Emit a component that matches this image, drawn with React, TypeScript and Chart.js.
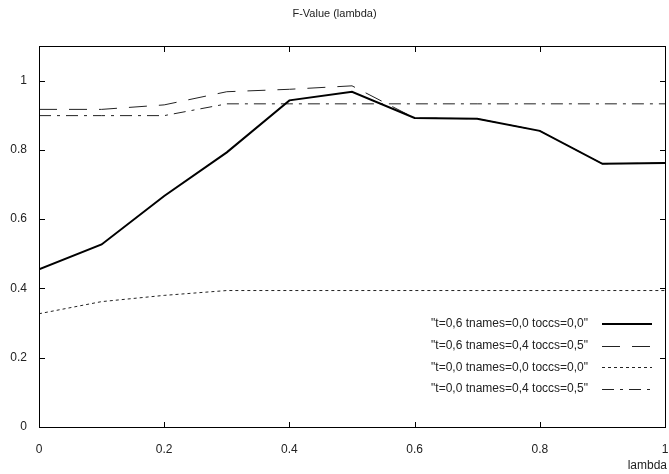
import React, { useEffect, useRef } from "react";
import { Chart, registerables } from "chart.js";

Chart.register(...registerables);

const lambdas = [0, 0.1, 0.2, 0.3, 0.4, 0.5, 0.6, 0.7, 0.8, 0.9, 1.0];
const seriesA = [0.455, 0.527, 0.667, 0.793, 0.943, 0.968, 0.892, 0.89, 0.855, 0.76, 0.762];
const seriesB = [0.917, 0.917, 0.93, 0.968, 0.975, 0.985, 0.892, 0.89, 0.855, 0.76, 0.762];
const seriesC = [0.327, 0.362, 0.38, 0.394, 0.394, 0.394, 0.394, 0.394, 0.394, 0.394, 0.394];
const seriesD = [0.899, 0.899, 0.899, 0.933, 0.933, 0.933, 0.933, 0.933, 0.933, 0.933, 0.933];
const labels = [
  '"t=0,6 tnames=0,0 toccs=0,0"',
  '"t=0,6 tnames=0,4 toccs=0,5"',
  '"t=0,0 tnames=0,0 toccs=0,0"',
  '"t=0,0 tnames=0,4 toccs=0,5"',
];
const xTicks = [0, 0.2, 0.4, 0.6, 0.8, 1];
const yTicks = [0, 0.2, 0.4, 0.6, 0.8, 1];
const titleText = "F-Value (lambda)";
const xTitle = "lambda";

const FONT = "Liberation Sans, Arial, sans-serif";

function drawFrame(chart: any) {
  const ctx = chart.ctx;
  const ca = chart.chartArea;
  const xs = chart.scales.x;
  const ys = chart.scales.y;
  ctx.save();
  ctx.fillStyle = "rgb(0,0,0)";
  const L = Math.round(ca.left);
  const T = Math.round(ca.top);
  const R = Math.round(ca.right);
  const B = Math.round(ca.bottom);
  ctx.fillRect(L, T, R - L + 1, 1);
  ctx.fillRect(L, B, R - L + 1, 1);
  ctx.fillRect(L, T, 1, B - T + 1);
  ctx.fillRect(R, T, 1, B - T + 1);
  const tl = 5;
  xTicks.forEach((v) => {
    const px = Math.round(xs.getPixelForValue(v));
    ctx.fillRect(px, B - tl, 1, tl);
    ctx.fillRect(px, T + 1, 1, tl);
  });
  yTicks.forEach((v) => {
    const py = Math.round(ys.getPixelForValue(v));
    ctx.fillRect(L + 1, py, tl, 1);
    ctx.fillRect(R - tl, py, tl, 1);
  });
  ctx.restore();
}

const decorPlugin = {
  id: "decor",
  afterDatasetsDraw(chart: any) {
    drawFrame(chart);
  },
  afterDraw(chart: any) {
    const ctx = chart.ctx;
    ctx.save();
    drawFrame(chart);
    ctx.fillStyle = "#222";
    ctx.font = `11px ${FONT}`;
    ctx.textAlign = "center";
    ctx.textBaseline = "middle";
    ctx.fillText(titleText, chart.width / 2, 14);

    ctx.font = `12px ${FONT}`;
    ctx.textAlign = "right";
    ctx.fillText(xTitle, chart.width - 2, 466);

    const rowY0 = 324;
    const rowGap = 21.7;
    const textRight = 588;
    const sampleL = 602;
    const sampleR = 652;
    chart.data.datasets.forEach((ds: any, i: number) => {
      const y = rowY0 + i * rowGap;
      ctx.fillStyle = "#222";
      ctx.font = `12px ${FONT}`;
      ctx.textAlign = "right";
      ctx.textBaseline = "middle";
      ctx.fillText(ds.label, textRight, y);
      ctx.beginPath();
      ctx.strokeStyle = ds.borderColor;
      ctx.lineWidth = ds.borderWidth;
      ctx.setLineDash(ds.borderDash || []);
      const yy = Math.round(y) + (ds.borderWidth === 2 ? 0 : 0.5);
      ctx.moveTo(sampleL, yy);
      ctx.lineTo(sampleR, yy);
      ctx.stroke();
    });
    ctx.restore();
  },
};

export default function App() {
  const ref = useRef<HTMLCanvasElement | null>(null);
  useEffect(() => {
    if (!ref.current) return;
    const mk = (data: number[]) => lambdas.map((x, i) => ({ x, y: data[i] }));
    const chart = new Chart(ref.current, {
      type: "line",
      data: {
        datasets: [
          { label: labels[0], data: mk(seriesA), borderColor: "#000", borderWidth: 2, borderDash: [], pointRadius: 0, tension: 0 },
          { label: labels[1], data: mk(seriesB), borderColor: "#222", borderWidth: 1, borderDash: [18, 12], pointRadius: 0, tension: 0 },
          { label: labels[2], data: mk(seriesC), borderColor: "#222", borderWidth: 1, borderDash: [3, 3], pointRadius: 0, tension: 0 },
          { label: labels[3], data: mk(seriesD), borderColor: "#222", borderWidth: 1, borderDash: [12, 6, 3, 6], pointRadius: 0, tension: 0 },
        ],
      },
      options: {
        animation: false,
        responsive: false,
        maintainAspectRatio: false,
        layout: { padding: { top: 46, right: 4, left: 0, bottom: 0 } },
        plugins: { legend: { display: false }, title: { display: false }, tooltip: { enabled: false } },
        scales: {
          x: {
            type: "linear",
            min: 0,
            max: 1,
            afterBuildTicks: (s: any) => { s.ticks = xTicks.map((v) => ({ value: v })); },
            afterFit: (s: any) => { s.height = 47; },
            grid: { display: false, drawTicks: true, tickLength: 15 },
            border: { display: false },
            ticks: {
              padding: 0,
              color: "#222",
              font: { family: FONT, size: 12 },
              maxRotation: 0,
              callback: (v: any) => String(Math.round(Number(v) * 10) / 10),
            },
          },
          y: {
            type: "linear",
            min: 0,
            max: 1.1,
            afterBuildTicks: (s: any) => { s.ticks = yTicks.map((v) => ({ value: v })); },
            afterFit: (s: any) => { s.width = 39; },
            grid: { display: false, drawTicks: true, tickLength: 12 },
            border: { display: false },
            ticks: {
              padding: 0,
              color: "#222",
              font: { family: FONT, size: 12 },
              callback: (v: any) => String(Math.round(Number(v) * 10) / 10),
            },
          },
        },
      },
      plugins: [decorPlugin],
    });
    return () => chart.destroy();
  }, []);
  return (
    <div style={{ position: "fixed", left: 0, top: 0, width: 669, height: 474, background: "#fff" }}>
      <canvas ref={ref} width={669} height={474} style={{ width: 669, height: 474 }} />
    </div>
  );
}
